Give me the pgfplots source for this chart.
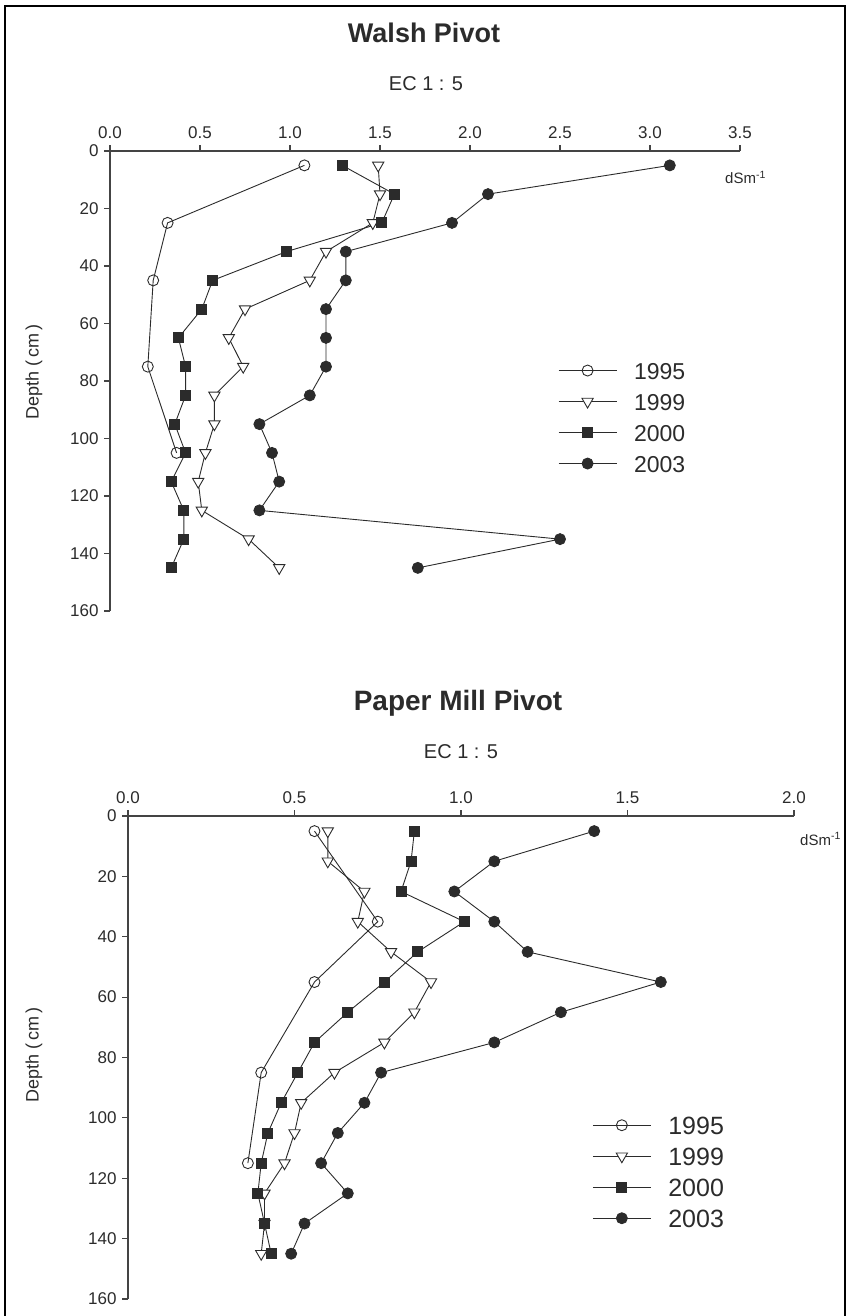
\documentclass[border=0pt]{standalone}
\usepackage{pgfplots}
\pgfplotsset{compat=1.18}
\usepackage{fontspec}
\setmainfont{Liberation Sans}
\definecolor{ink}{HTML}{2B2B2B}
\definecolor{axc}{HTML}{444444}
\pgfplotsset{
  ecaxis/.style={
    scale only axis,
    y dir=reverse,
    ymin=0, ymax=160,
    ytick={0,20,...,160},
    axis x line*=top,
    axis y line*=left,
    tick align=outside,
    major tick length=6pt,
    axis line style={draw=axc, line width=1.1pt},
    every tick/.style={draw=axc, line width=1.1pt},
    tick label style={font=\fontsize{17pt}{20pt}\selectfont, text=ink},
    /pgf/number format/assume math mode=true,
    xticklabel style={yshift=3pt, /pgf/number format/.cd, fixed, fixed zerofill, precision=1},
    yticklabel style={xshift=-2pt, /pgf/number format/.cd, fixed, precision=0},
    clip=false,
    legend cell align=left,
    legend image code/.code={\draw[mark repeat=2,mark phase=2,##1] plot coordinates {(0pt,0pt)(29pt,0pt)(58pt,0pt)};},
  },
  s95/.style={draw=ink, line width=0.9pt, mark=o, mark size=5.5pt, mark options={fill=white, draw=ink, line width=0.9pt}},
  s99/.style={draw=ink, line width=0.9pt, mark=triangle*, mark size=6.5pt, mark options={fill=white, draw=ink, rotate=180, line width=0.9pt}},
  s00/.style={draw=ink, line width=0.9pt, mark=square*, mark size=5pt, mark options={fill=ink, draw=ink}},
  s03/.style={draw=ink, line width=0.9pt, mark=*, mark size=5.5pt, mark options={fill=ink, draw=ink}},
}
\begin{document}
\begin{tikzpicture}
\useasboundingbox (0pt,0pt) rectangle (847pt,-1316pt);
% frame
\draw[black, line width=2pt] (5pt,-1316pt) -- (5pt,-6pt) -- (845pt,-6pt) -- (845pt,-1316pt);

% ---------------- Walsh Pivot ----------------
\begin{axis}[ecaxis,
  at={(110pt,-151pt)}, anchor=north west,
  width=630pt, height=460pt,
  xmin=0, xmax=3.5, xtick={0,0.5,...,3.5},
  legend style={at={(axis description cs:0.711,0.546)}, anchor=north west, draw=none, fill=none, inner sep=0pt,
    font=\fontsize{23pt}{26pt}\selectfont, text=ink, row sep=10pt,
    /tikz/every odd column/.append style={column sep=15pt},
    nodes={inner sep=2pt, text height=17pt, text depth=0pt}},
]
\addplot[s95] coordinates {(1.08,5) (0.32,25) (0.24,45) (0.21,75) (0.37,105)};
\addlegendentry{1995}
\addplot[s99] coordinates {(1.49,5) (1.50,15) (1.46,25) (1.20,35) (1.11,45) (0.75,55) (0.66,65) (0.74,75) (0.58,85) (0.58,95) (0.53,105) (0.49,115) (0.51,125) (0.77,135) (0.94,145)};
\addlegendentry{1999}
\addplot[s00] coordinates {(1.29,5) (1.58,15) (1.51,25) (0.98,35) (0.57,45) (0.51,55) (0.38,65) (0.42,75) (0.42,85) (0.36,95) (0.42,105) (0.34,115) (0.41,125) (0.41,135) (0.34,145)};
\addlegendentry{2000}
\addplot[s03] coordinates {(3.11,5) (2.10,15) (1.90,25) (1.31,35) (1.31,45) (1.20,55) (1.20,65) (1.20,75) (1.11,85) (0.83,95) (0.90,105) (0.94,115) (0.83,125) (2.50,135) (1.71,145)};
\addlegendentry{2003}
\end{axis}
\node[anchor=base, text=ink, font=\bfseries\fontsize{27pt}{30pt}\selectfont] at (424pt,-43pt) {Walsh Pivot};
\node[anchor=base, text=ink, font=\fontsize{20pt}{24pt}\selectfont] at (426pt,-91pt) {EC 1 : 5};
\node[anchor=base west, text=ink, font=\fontsize{15pt}{18pt}\selectfont, inner sep=0pt] at (725pt,-184pt) {dSm\textsuperscript{-1}};
\node[rotate=90, text=ink, font=\fontsize{18pt}{21pt}\selectfont] at (34pt,-372pt) {Depth (\,cm\,)};

% ---------------- Paper Mill Pivot ----------------
\begin{axis}[ecaxis,
  at={(128pt,-816pt)}, anchor=north west,
  width=666pt, height=483pt,
  xmin=0, xmax=2, xtick={0,0.5,...,2},
  legend style={at={(axis description cs:0.697,0.383)}, anchor=north west, draw=none, fill=none, inner sep=0pt,
    font=\fontsize{25pt}{28pt}\selectfont, text=ink, row sep=9pt,
    /tikz/every odd column/.append style={column sep=15pt},
    nodes={inner sep=2pt, text height=18pt, text depth=0pt}},
]
\addplot[s95] coordinates {(0.56,5) (0.75,35) (0.56,55) (0.40,85) (0.36,115)};
\addlegendentry{1995}
\addplot[s99] coordinates {(0.60,5) (0.60,15) (0.71,25) (0.69,35) (0.79,45) (0.91,55) (0.86,65) (0.77,75) (0.62,85) (0.52,95) (0.50,105) (0.47,115) (0.41,125) (0.41,135) (0.40,145)};
\addlegendentry{1999}
\addplot[s00] coordinates {(0.86,5) (0.85,15) (0.82,25) (1.01,35) (0.87,45) (0.77,55) (0.66,65) (0.56,75) (0.51,85) (0.46,95) (0.42,105) (0.40,115) (0.39,125) (0.41,135) (0.43,145)};
\addlegendentry{2000}
\addplot[s03] coordinates {(1.40,5) (1.10,15) (0.98,25) (1.10,35) (1.20,45) (1.60,55) (1.30,65) (1.10,75) (0.76,85) (0.71,95) (0.63,105) (0.58,115) (0.66,125) (0.53,135) (0.49,145)};
\addlegendentry{2003}
\end{axis}
\node[anchor=base, text=ink, font=\bfseries\fontsize{28pt}{31pt}\selectfont] at (458pt,-710pt) {Paper Mill Pivot};
\node[anchor=base, text=ink, font=\fontsize{20pt}{24pt}\selectfont] at (461pt,-758pt) {EC 1 : 5};
\node[anchor=base west, text=ink, font=\fontsize{15pt}{18pt}\selectfont, inner sep=0pt] at (800pt,-845pt) {dSm\textsuperscript{-1}};
\node[rotate=90, text=ink, font=\fontsize{18pt}{21pt}\selectfont] at (34pt,-1055pt) {Depth (\,cm\,)};
\end{tikzpicture}
\end{document}
